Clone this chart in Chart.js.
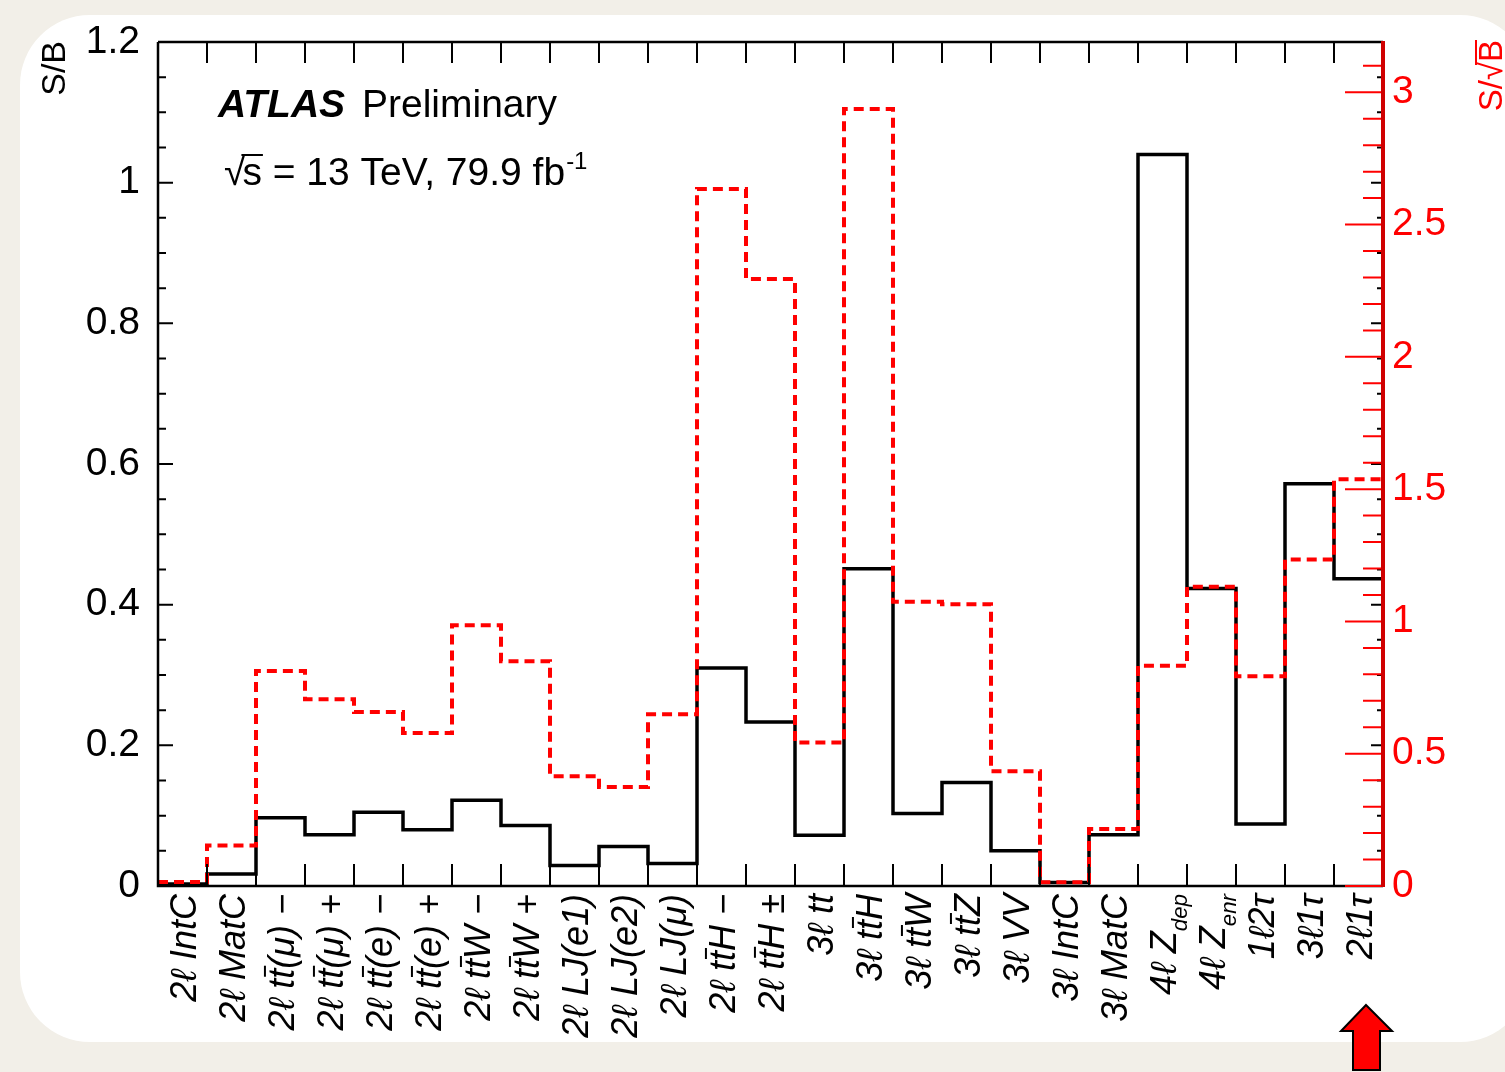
<!DOCTYPE html>
<html><head><meta charset="utf-8">
<script src="https://cdn.jsdelivr.net/npm/chart.js@4.4.1/dist/chart.umd.min.js"></script>
<style>
html,body{margin:0;padding:0;background:#f2efe8;width:1505px;height:1072px;overflow:hidden;}
#card{position:absolute;left:20px;top:15px;width:1510px;height:1027px;background:#fff;border-radius:70px;}
#wrap{position:absolute;left:0;top:0;width:1505px;height:1072px;}
#arrow{position:absolute;left:0;top:0;}
</style></head>
<body>
<div id="card"></div>
<div id="wrap"><canvas id="c" width="1505" height="1072"></canvas></div>
<svg id="arrow" width="1505" height="1072"><polygon points="1366,1005 1392,1031 1380,1031 1380,1070 1353,1070 1353,1031 1341,1031" fill="#ff0000" stroke="#000" stroke-width="2"/></svg>
<script>
// ---- data ----
const categories = ["2ℓ IntC","2ℓ MatC","2ℓ tt\u0304(μ) −","2ℓ tt\u0304(μ) +","2ℓ tt\u0304(e) −","2ℓ tt\u0304(e) +",
  "2ℓ tt\u0304W −","2ℓ tt\u0304W +","2ℓ LJ(e1)","2ℓ LJ(e2)","2ℓ LJ(μ)","2ℓ tt\u0304H −","2ℓ tt\u0304H ±",
  "3ℓ tt","3ℓ tt\u0304H","3ℓ tt\u0304W","3ℓ tt\u0304Z","3ℓ VV","3ℓ IntC","3ℓ MatC","4ℓ Z_dep","4ℓ Z_enr",
  "1ℓ2τ","3ℓ1τ","2ℓ1τ"];
const sOverB = [0.003,0.017,0.097,0.073,0.105,0.080,0.122,0.086,0.029,0.056,0.032,0.310,0.233,
  0.072,0.451,0.103,0.147,0.050,0.005,0.073,1.040,0.423,0.088,0.572,0.437];
const sOverSqrtB = [0.015,0.153,0.813,0.706,0.658,0.578,0.986,0.849,0.415,0.374,0.649,2.634,2.294,
  0.542,2.937,1.074,1.065,0.434,0.014,0.215,0.832,1.131,0.793,1.234,1.537];
const leftTicks = [0,0.2,0.4,0.6,0.8,1,1.2];
const rightTicks = [0,0.5,1,1.5,2,2.5,3];
const leftMax = 1.2, rightMax = 3.19;

function stepPoints(vals){
  const pts = vals.map((v,i)=>({x:i,y:v}));
  pts.push({x:vals.length,y:vals[vals.length-1]});
  return pts;
}

const FONT = '"Liberation Sans", Arial, Helvetica, sans-serif';

function drawRich(ctx, label, size){
  const chars=[...label]; const segs=[]; let sub=false;
  for(let i=0;i<chars.length;i++){
    const c=chars[i];
    if(c==='_'){sub=true;continue;}
    if(c==='\u0304') continue;
    segs.push({t:c, sub, over: chars[i+1]==='\u0304'});
  }
  let W=0;
  segs.forEach(s=>{ctx.font='italic '+(s.sub?size*0.62:size)+'px '+FONT; s.w=ctx.measureText(s.t).width; W+=s.w;});
  let x=-W; const base=size*0.36;
  segs.forEach(s=>{
    ctx.font='italic '+(s.sub?size*0.62:size)+'px '+FONT;
    ctx.fillText(s.t, x, base + (s.sub?size*0.28:0));
    if(s.over){
      ctx.beginPath(); ctx.lineWidth=2;
      ctx.moveTo(x+2, base-size*0.82); ctx.lineTo(x+s.w+3, base-size*0.82); ctx.stroke();
    }
    x+=s.w;
  });
}

const framePlugin = {
  id:'frame',
  afterDatasetsDraw(chart){
    const ctx=chart.ctx, a=chart.chartArea;
    const xs=chart.scales.x, y=chart.scales.y, y1=chart.scales.y1;
    ctx.save();
    ctx.strokeStyle='#000'; ctx.lineWidth=2.5; ctx.lineCap='butt';
    ctx.beginPath();
    ctx.moveTo(a.left,a.top); ctx.lineTo(a.right,a.top);
    ctx.moveTo(a.left,a.top); ctx.lineTo(a.left,a.bottom); ctx.lineTo(a.right,a.bottom);
    ctx.stroke();
    ctx.lineWidth=2;
    ctx.beginPath();
    for(let i=1;i<categories.length;i++){
      const px=xs.getPixelForValue(i);
      ctx.moveTo(px,a.top); ctx.lineTo(px,a.top+21);
      ctx.moveTo(px,a.bottom); ctx.lineTo(px,a.bottom-22);
    }
    for(let k=0;k<=Math.round(leftMax/0.05);k++){
      const v=k*0.05, py=y.getPixelForValue(v);
      const major = k%4===0;
      ctx.moveTo(a.left,py); ctx.lineTo(a.left+(major?15:8),py);
      ctx.moveTo(a.right,py); ctx.lineTo(a.right-(major?12:6),py);
    }
    ctx.stroke();
    ctx.strokeStyle='#ff0000'; ctx.lineWidth=2;
    ctx.beginPath();
    for(let k=0;k*0.1<=rightMax;k++){
      const v=k*0.1, py=y1.getPixelForValue(v);
      const major = k%5===0;
      ctx.moveTo(a.right,py); ctx.lineTo(a.right-(major?38:20),py);
    }
    ctx.stroke();
    ctx.strokeStyle='#d00000'; ctx.lineWidth=4;
    ctx.beginPath(); ctx.moveTo(a.right,a.bottom+1); ctx.lineTo(a.right,a.top-1); ctx.stroke();
    ctx.restore();
  },
  afterDraw(chart){
    const ctx=chart.ctx, a=chart.chartArea, xs=chart.scales.x;
    ctx.save();
    ctx.fillStyle='#000'; ctx.strokeStyle='#000'; ctx.textAlign='left'; ctx.textBaseline='alphabetic';
    categories.forEach((lab,i)=>{
      const px=xs.getPixelForValue(i+0.5)+1;
      ctx.save(); ctx.translate(px, a.bottom+8); ctx.rotate(-Math.PI/2);
      drawRich(ctx, lab, 36);
      ctx.restore();
    });
    ctx.save(); ctx.translate(56, a.top-1); ctx.rotate(-Math.PI/2);
    ctx.font='34px '+FONT; ctx.textAlign='right'; ctx.textBaseline='middle'; ctx.fillStyle='#000';
    ctx.fillText('S/B',0,0); ctx.restore();
    ctx.save(); ctx.translate(1491, a.top-2); ctx.rotate(-Math.PI/2);
    ctx.font='33px '+FONT; ctx.textBaseline='alphabetic'; ctx.fillStyle='#ff0000'; ctx.strokeStyle='#ff0000';
    const wB=ctx.measureText('B').width, wS=ctx.measureText('S/√').width;
    ctx.textAlign='left';
    ctx.fillText('S/√',-(wB+wS),11); ctx.fillText('B',-wB,11);
    ctx.lineWidth=2; ctx.beginPath(); ctx.moveTo(-wB-3,11-26); ctx.lineTo(0,11-26); ctx.stroke();
    ctx.restore();
    ctx.fillStyle='#000'; ctx.textAlign='left'; ctx.textBaseline='alphabetic';
    ctx.font='italic bold 39px '+FONT; ctx.fillText('ATLAS',218,117);
    ctx.font='39px '+FONT; ctx.fillText('Preliminary',362,117);
    ctx.font='39px '+FONT;
    let x=224; const by=185;
    ctx.fillText('√',x,by); x+=ctx.measureText('√').width-3;
    const ws=ctx.measureText('s').width;
    ctx.fillText('s',x,by);
    ctx.lineWidth=2; ctx.beginPath(); ctx.moveTo(x-1,by-30); ctx.lineTo(x+ws+1,by-30); ctx.stroke();
    x+=ws;
    const rest=' = 13 TeV, 79.9 fb';
    ctx.fillText(rest,x,by); x+=ctx.measureText(rest).width+1;
    ctx.font='24px '+FONT; ctx.fillText('-1',x,by-16);
    ctx.restore();
  }
};

new Chart(document.getElementById('c'), {
  type:'line',
  data:{datasets:[
    {label:'S/√B', data:stepPoints(sOverSqrtB), yAxisID:'y1', borderColor:'#ff0000', borderWidth:4,
     borderDash:[10,6], stepped:'before', pointRadius:0, fill:false, order:0},
    {label:'S/B', data:stepPoints(sOverB), yAxisID:'y', borderColor:'#000', borderWidth:3.5,
     stepped:'before', pointRadius:0, fill:false, order:1}
  ]},
  options:{
    responsive:false, animation:false, devicePixelRatio:1,
    layout:{padding:{top:42,bottom:186,left:0,right:0}},
    plugins:{legend:{display:false}, tooltip:{enabled:false}},
    scales:{
      x:{type:'linear', min:0, max:categories.length, display:false},
      y:{type:'linear', position:'left', min:0, max:leftMax,
         afterFit(s){s.width=158;},
         afterBuildTicks(s){s.ticks=leftTicks.map(v=>({value:v}));},
         grid:{display:false, drawTicks:false}, border:{display:false},
         ticks:{padding:18, color:'#000', font:{family:FONT, size:39},
                callback:(v)=>String(Number(v.toFixed(1)))}},
      y1:{type:'linear', position:'right', min:0, max:rightMax,
         afterFit(s){s.width=122;},
         afterBuildTicks(s){s.ticks=rightTicks.map(v=>({value:v}));},
         grid:{display:false, drawTicks:false}, border:{display:false},
         ticks:{padding:9, color:'#ff0000', font:{family:FONT, size:39},
                callback:(v)=>String(Number(v.toFixed(1)))}}
    }
  },
  plugins:[framePlugin]
});
</script>
</body></html>
